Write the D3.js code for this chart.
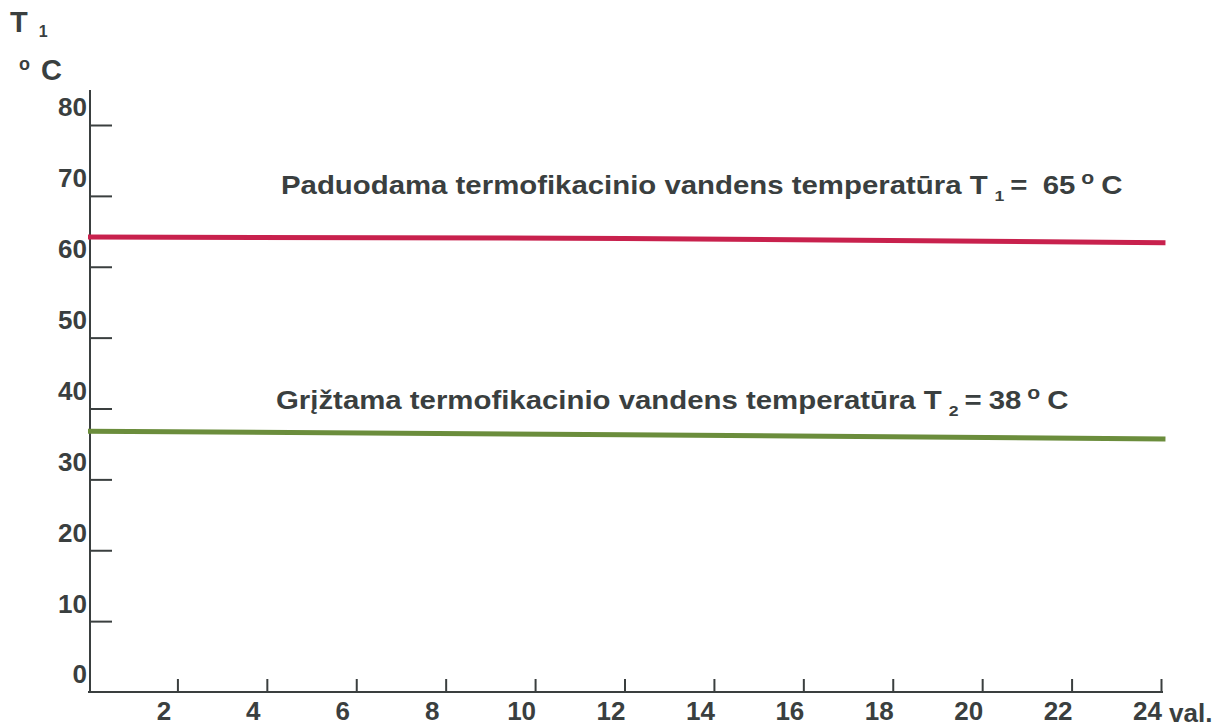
<!DOCTYPE html>
<html>
<head>
<meta charset="utf-8">
<script src="https://cdn.jsdelivr.net/npm/d3@7"></script>
<style>
  body { margin: 0; background: #fff; }
  svg text { font-family: "Liberation Sans", Arial, sans-serif; font-weight: bold; fill: #3a3f3f; }
</style>
</head>
<body>
<div id="chart"></div>
<script>
// data
const hours = [0, 12, 24.1];
const supplyTemp = [64.2, 64.0, 63.4];   // T1
const returnTemp = [36.8, 36.3, 35.7];   // T2
const xTicks = [2, 4, 6, 8, 10, 12, 14, 16, 18, 20, 22, 24];
const yTicks = [0, 10, 20, 30, 40, 50, 60, 70, 80];

const width = 1227, height = 728;

const svg = d3.select("#chart")
  .append("svg")
  .attr("width", width)
  .attr("height", height);

const x = d3.scaleLinear().domain([0, 24]).range([88, 1161]);
const y = d3.scaleLinear().domain([0, 80]).range([692, 125]);

// osys
svg.append("line")
  .attr("x1", x(0) + 2).attr("x2", x(0) + 2)
  .attr("y1", 90).attr("y2", y(0))
  .attr("stroke", "#3a3f3f").attr("stroke-width", 2);

svg.append("line")
  .attr("x1", x(0)).attr("x2", x(24) + 2)
  .attr("y1", y(0)).attr("y2", y(0))
  .attr("stroke", "#3a3f3f").attr("stroke-width", 2);

const yAxis = svg.append("g")
  .attr("transform", `translate(${x(0) + 2},0)`)
  .call(d3.axisLeft(y).tickValues(yTicks).tickSize(-22).tickPadding(3).tickFormat(d3.format("d")));
yAxis.select(".domain").remove();
yAxis.selectAll(".tick line").attr("stroke", "#3a3f3f").attr("stroke-width", 2)
  .filter(d => d === 0).remove();
yAxis.selectAll(".tick text")
  .attr("font-size", 26).attr("dy", "-0.35em")
  .style("font-family", "'Liberation Sans', Arial, sans-serif").style("font-weight", "bold").attr("fill", "#3a3f3f");

const xAxis = svg.append("g")
  .attr("transform", `translate(0,${y(0)})`)
  .call(d3.axisBottom(x).tickValues(xTicks).tickSize(-13).tickPadding(9).tickFormat(d3.format("d")));
xAxis.select(".domain").remove();
xAxis.selectAll(".tick line").attr("stroke", "#3a3f3f").attr("stroke-width", 2);
xAxis.selectAll(".tick text")
  .attr("font-size", 26).attr("dx", -14).attr("dy", "0.72em")
  .style("font-family", "'Liberation Sans', Arial, sans-serif").style("font-weight", "bold").attr("fill", "#3a3f3f");

svg.append("text")
  .attr("x", 1169).attr("y", 722)
  .attr("font-size", 26)
  .text("val.");

// linijos
const line = d3.line()
  .x(d => x(d[0]))
  .y(d => y(d[1]));

svg.append("path")
  .datum(d3.zip(hours, supplyTemp))
  .attr("d", line)
  .attr("fill", "none")
  .attr("stroke", "#c8214d")
  .attr("stroke-width", 5);

svg.append("path")
  .datum(d3.zip(hours, returnTemp))
  .attr("d", line)
  .attr("fill", "none")
  .attr("stroke", "#6b8d3c")
  .attr("stroke-width", 5);

// užrašai (skenuotas šriftas platesnis, todėl ištempiam)
function label(xp, yp, main, sub, eq, val, gap) {
  const t = svg.append("text")
    .attr("transform", `translate(${xp},${yp}) scale(1.175,1)`)
    .attr("font-size", 25);
  t.append("tspan").text(main);
  t.append("tspan").attr("font-size", 15).attr("dx", 6).attr("dy", 7).text(sub);
  t.append("tspan").attr("dy", -7).attr("dx", 5).text(eq);
  t.append("tspan").attr("dx", gap).text(val);
  t.append("tspan").attr("font-size", 18).attr("dy", -10).attr("dx", 5).text("o");
  t.append("tspan").attr("dy", 10).attr("dx", 6).text("C");
}

label(281, 194, "Paduodama termofikacinio vandens temperatūra T", "1", "=", "65", 13);
label(276, 409, "Grįžtama termofikacinio vandens temperatūra T", "2", "=", "38", 6);

// ašies pavadinimas
const t1 = svg.append("text").attr("x", 10).attr("y", 32).attr("font-size", 29);
t1.append("tspan").text("T");
t1.append("tspan").attr("font-size", 16).attr("dx", 11).attr("dy", 5).text("1");

const t2 = svg.append("text").attr("x", 19).attr("y", 80).attr("font-size", 29);
t2.append("tspan").attr("font-size", 18).attr("dy", -10).text("o");
t2.append("tspan").attr("dx", 11).attr("dy", 10).text("C");
</script>
</body>
</html>
